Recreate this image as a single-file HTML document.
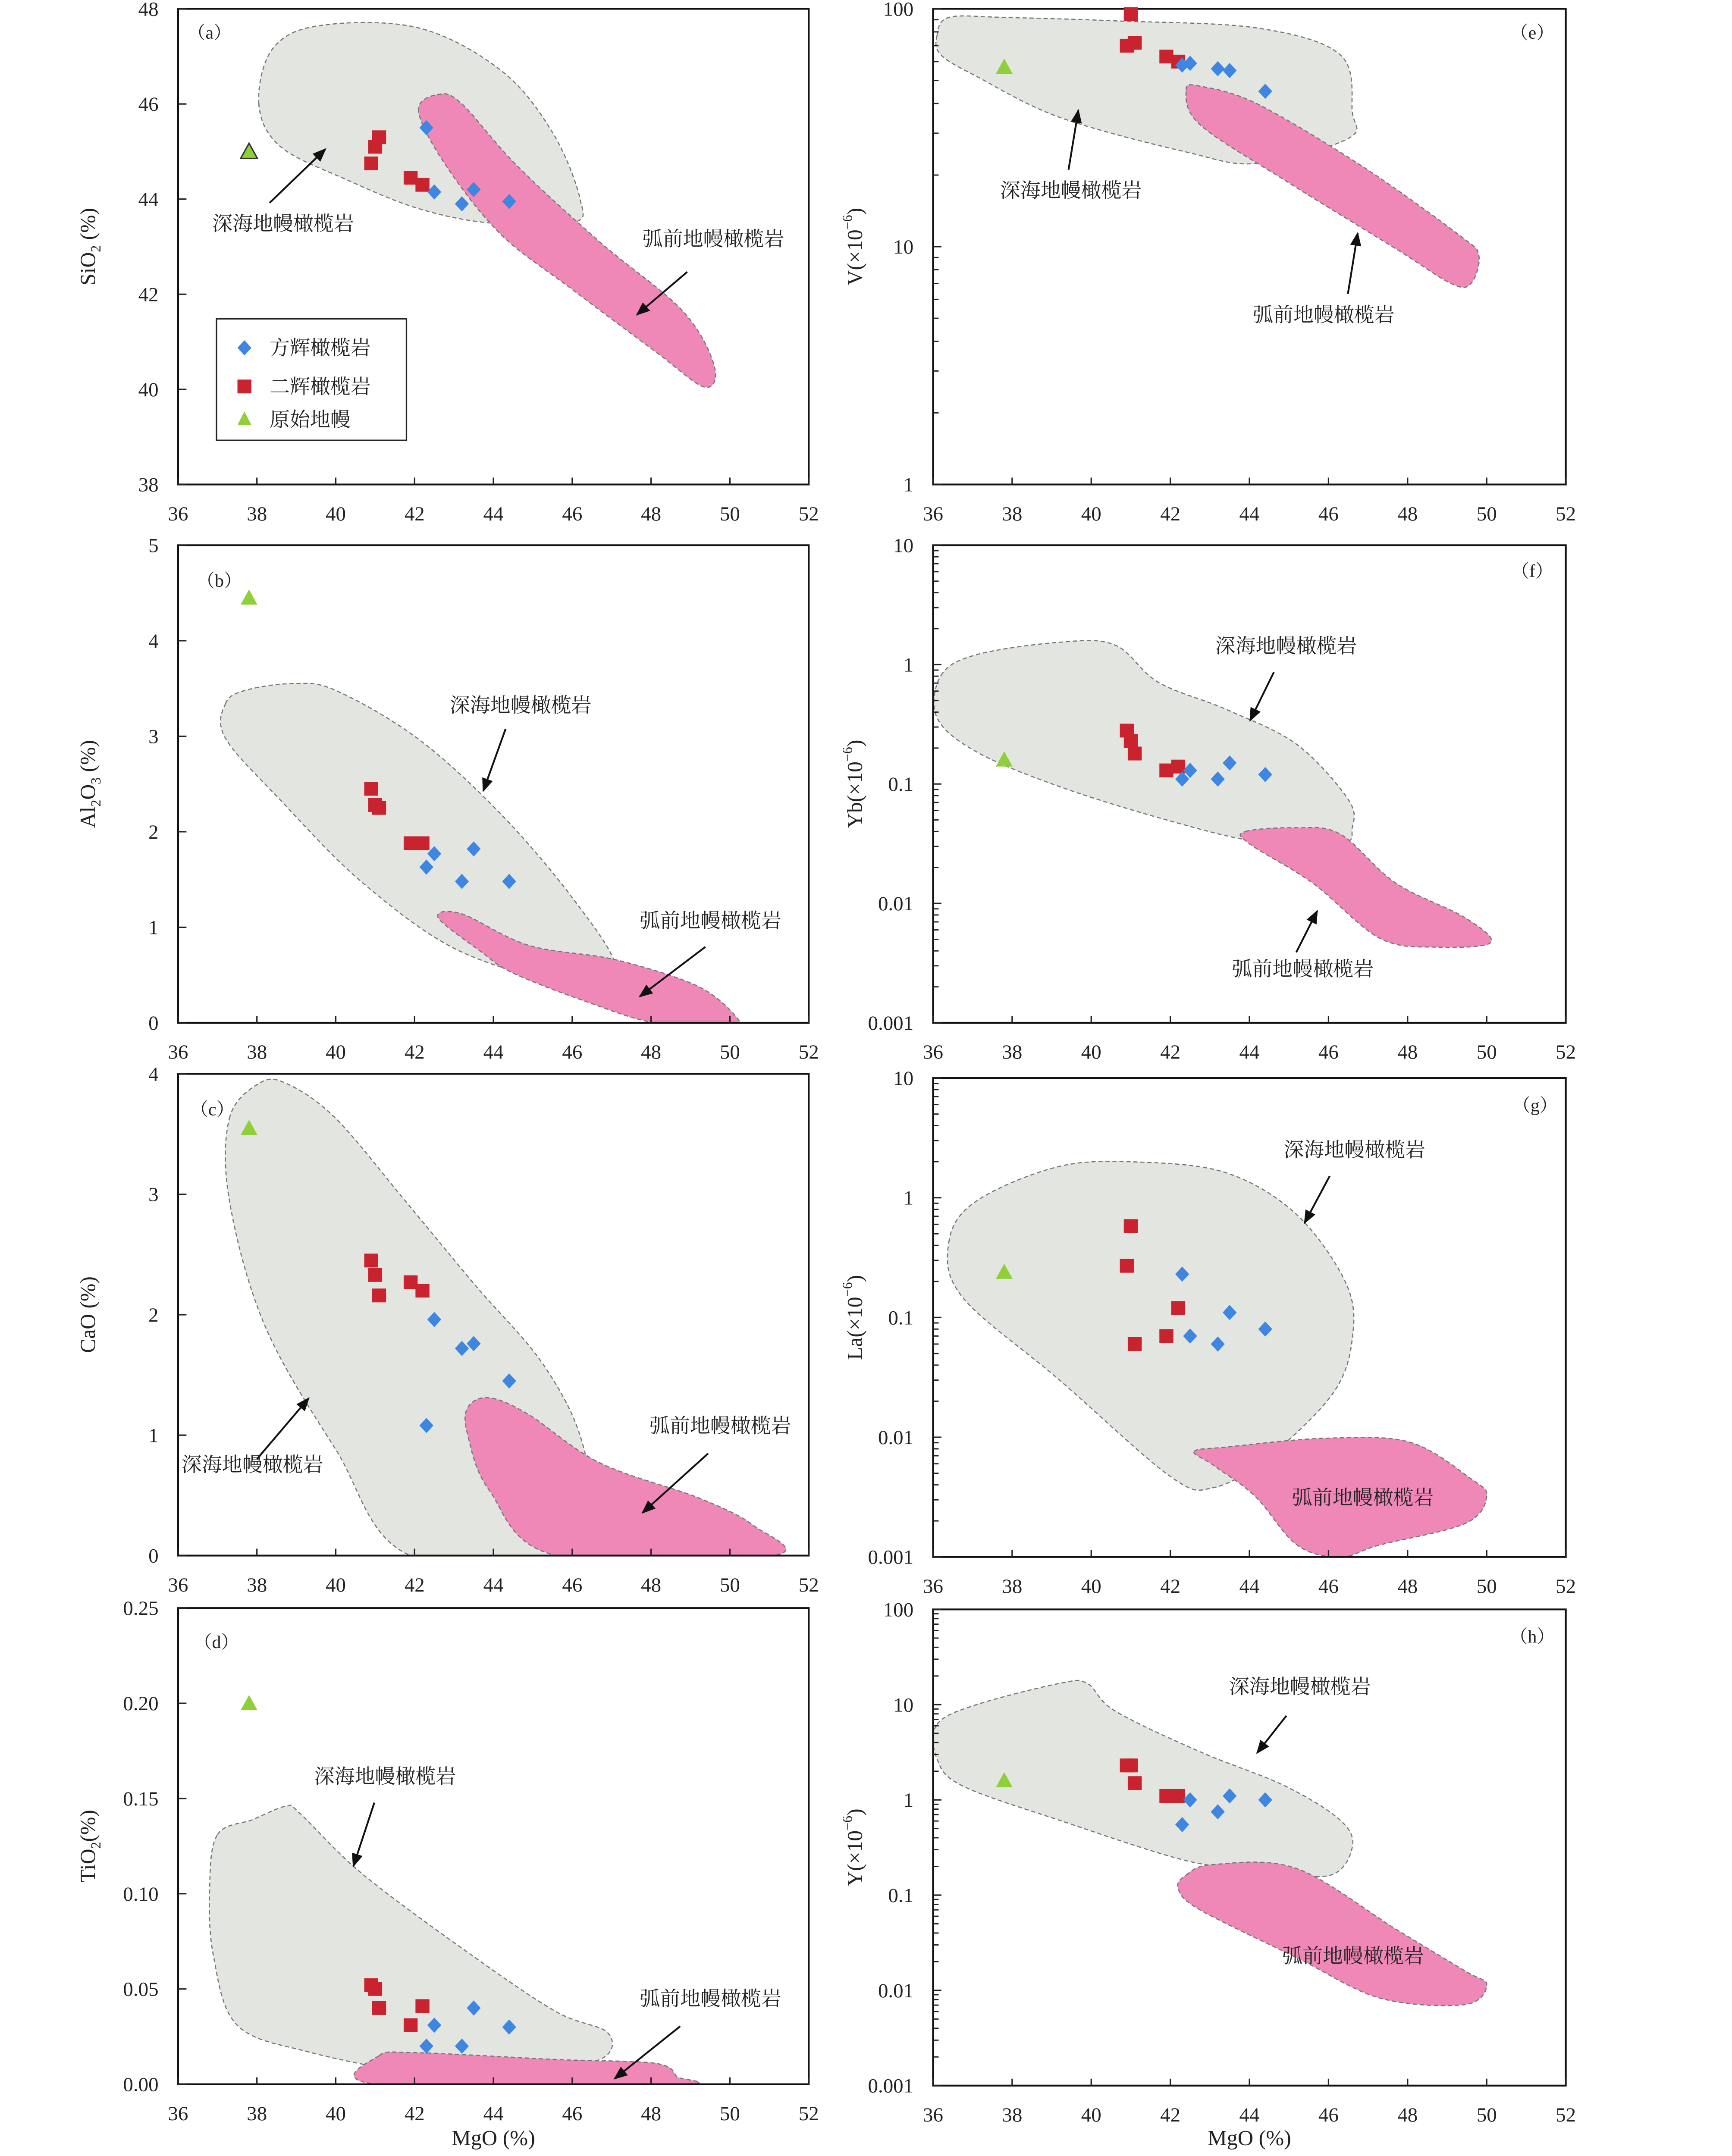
<!DOCTYPE html>
<html><head><meta charset="utf-8">
<style>
html,body{margin:0;padding:0;background:#fff;width:100%;height:100%;overflow:hidden;}
svg{display:block;position:fixed;left:0;top:0;width:100vw;height:100vh;}
text{font-family:"Liberation Serif","Noto Serif CJK SC",serif;fill:#222;}
</style></head>
<body>
<svg id="chart" xmlns="http://www.w3.org/2000/svg" viewBox="0 0 1240 1562" preserveAspectRatio="none"></svg>
<script>
// ---- data (MgO %, values) ----
const mgoHz = [42.3, 42.5, 43.2, 43.5, 44.4];      // harzburgite (diamonds)
const mgoLz = [40.9, 41.0, 41.1, 41.9, 42.2];      // lherzolite (squares)
const mgoPm = [37.8];                               // primitive mantle

const sio2Hz = [45.5, 44.15, 43.9, 44.2, 43.95];
const sio2Lz = [44.75, 45.1, 45.3, 44.45, 44.3];
const sio2Pm = [45.0];

const al2o3Hz = [1.63, 1.77, 1.48, 1.82, 1.48];
const al2o3Lz = [2.45, 2.28, 2.25, 1.88, 1.88];
const al2o3Pm = [4.45];

const caoHz = [1.08, 1.96, 1.72, 1.76, 1.45];
const caoLz = [2.45, 2.33, 2.16, 2.27, 2.2];
const caoPm = [3.55];

const tio2Hz = [0.02, 0.031, 0.02, 0.04, 0.03];
const tio2Lz = [0.052, 0.05, 0.04, 0.031, 0.041];
const tio2Pm = [0.2];

const vHz = [58, 59, 56, 55, 45];
const vLz = [70, 95, 72, 63, 60];
const vPm = [57];

const ybHz = [0.11, 0.13, 0.11, 0.15, 0.12];
const ybLz = [0.28, 0.23, 0.18, 0.13, 0.14];
const ybPm = [0.16];

const laHz = [0.23, 0.07, 0.06, 0.11, 0.08];
const laLz = [0.27, 0.58, 0.06, 0.07, 0.12];
const laPm = [0.24];

const yHz = [0.55, 1.0, 0.75, 1.1, 1.0];
const yLz = [2.3, 2.3, 1.5, 1.1, 1.1];
const yPm = [1.6];

// ---- field outlines (MgO, value) ----
const grayA = [[38.05,46.0],[38.4,47.16],[39.6,47.65],[42.1,47.6],[44.2,46.7],[45.5,45.4],[46.2,44.0],[46.0,43.5],[43.9,43.5],[42.1,43.8],[40.3,44.4],[38.6,45.1]];
const pinkA = [[42.1,45.85],[42.6,46.2],[43.2,46.0],[44.6,44.7],[46.7,43.1],[48.8,41.65],[49.6,40.5],[49.35,40.05],[48.1,40.8],[46.0,42.1],[44.2,43.25],[42.8,44.7]];
const grayB = [[37.2,3.34],[37.7,3.48],[38.9,3.55],[40.0,3.48],[42.1,2.97],[44.2,2.18],[46.0,1.31],[47.1,0.59],[46.3,0.38],[43.2,0.74],[40.7,1.46],[38.6,2.33],[37.2,2.98]];
const pinkB = [[42.6,1.1],[43.2,1.14],[44.9,0.81],[47.1,0.66],[49.2,0.38],[50.2,0.04],[49.9,0],[48.1,0],[46.3,0.23],[44.5,0.52],[43.7,0.74]];
const grayC = [[37.3,3.63],[38.05,3.92],[38.75,3.92],[40.0,3.63],[41.75,2.95],[43.5,2.26],[45.3,1.57],[46.3,0.88],[46.5,0],[41.9,0],[40.0,0.88],[38.2,1.91],[37.3,2.95]];
const pinkC = [[43.35,1.23],[43.9,1.31],[44.9,1.17],[46.7,0.77],[49.2,0.48],[50.6,0.25],[51.1,0],[45.6,0],[43.9,0.54],[43.35,1.0]];
const grayD = [[37.0,0.131],[37.9,0.139],[38.75,0.146],[39.1,0.142],[40.7,0.11],[43.5,0.067],[45.6,0.038],[46.9,0.027],[46.7,0.013],[44.6,0.006],[42.1,0.006],[39.3,0.017],[37.5,0.031],[36.9,0.067],[36.8,0.103]];
const pinkD = [[41.1,0.015],[42.1,0.0165],[45.6,0.013],[48.1,0.011],[48.65,0.004],[48.65,0],[41.05,0]];
const grayE = [[36.1,77],[36.4,92],[37.8,92],[40.6,89],[44.2,83],[46.3,64],[46.6,37],[46.5,28.5],[44.2,22.4],[42.4,25],[39.2,35],[37.1,52],[36.2,64]];
const pinkE = [[42.4,45.5],[42.75,47.3],[44.2,39.8],[46.85,21.8],[49.3,11.2],[49.8,9.2],[49.6,7.0],[49.1,7.0],[47.7,9.8],[44.9,19],[42.75,32.6]];
const grayF = [[36.2,0.81],[37.1,1.21],[39.2,1.54],[40.6,1.46],[41.7,0.71],[43.45,0.417],[45.2,0.214],[46.5,0.074],[46.6,0.043],[46.3,0.0316],[44.2,0.033],[42.0,0.049],[39.2,0.095],[37.1,0.186],[36.1,0.36]];
const pinkF = [[43.9,0.04],[45.2,0.043],[46.3,0.038],[47.7,0.0148],[49.45,0.0076],[50.1,0.0047],[48.75,0.0043],[47.3,0.0051],[45.6,0.0148],[44.0,0.0316]];
const grayG = [[36.4,0.425],[37.1,0.94],[39.2,1.83],[41.3,1.98],[43.45,1.6],[45.2,0.72],[46.45,0.19],[46.6,0.066],[46.1,0.023],[44.5,0.0069],[43.1,0.0038],[42.0,0.0047],[39.2,0.030],[36.75,0.147]];
const pinkG = [[42.6,0.0076],[43.45,0.0083],[45.9,0.0098],[48.05,0.0091],[49.6,0.0045],[50.0,0.0032],[49.45,0.0019],[47.3,0.00126],[46.3,0.001],[45.2,0.00126],[44.15,0.0032],[43.1,0.0058]];
const grayH = [[36.1,6.2],[37.1,10],[39.2,16.7],[39.9,16.7],[40.6,8.6],[42.75,3.2],[44.9,1.4],[46.3,0.61],[46.6,0.316],[46.0,0.16],[44.2,0.19],[42.4,0.23],[39.2,0.61],[36.75,1.4],[36.1,2.7]];
const pinkH = [[42.4,0.163],[43.1,0.21],[45.2,0.19],[47.7,0.044],[49.45,0.016],[50.0,0.0115],[49.45,0.0071],[47.3,0.0083],[45.2,0.022],[42.75,0.07],[42.2,0.117]];

const xTicks = [36,38,40,42,44,46,48,50,52];
const ticksA = [38,40,42,44,46,48];
const ticksB = [0,1,2,3,4,5];
const ticksC = [0,1,2,3,4];
const ticksD = [0,0.05,0.10,0.15,0.20,0.25];
const labelsD = ["0.00","0.05","0.10","0.15","0.20","0.25"];
const ticksE = [1,10,100];
const ticksF = [0.001,0.01,0.1,1,10];
const labelsF = ["0.001","0.01","0.1","1","10"];
const ticksH = [0.001,0.01,0.1,1,10,100];
const labelsH = ["0.001","0.01","0.1","1","10","100"];

const NS = "http://www.w3.org/2000/svg";
const svg = document.getElementById('chart');
function el(tag, attrs, parent){
  const e = document.createElementNS(NS, tag);
  for (const k in attrs) e.setAttribute(k, attrs[k]);
  (parent||svg).appendChild(e);
  return e;
}
function txt(s, x, y, size, anchor, parent){
  const t = el('text', {x:x, y:y, 'font-size':size, 'text-anchor':anchor||'start'}, parent);
  t.textContent = s;
  return t;
}

const panels = [
 {id:'a', L:127.5,R:579,T:6.4,B:351, ymin:38,ymax:48,log:false, ticks:ticksA, labels:null, hz:sio2Hz, lz:sio2Lz, pm:sio2Pm, gray:grayA, pink:pinkA, tag:[150,28], pmOutline:true,
  gl:[152,167], ga:[193,147,233,108], pl:[460,178], pa:[492,197,456,228], ylab:'SiO2', ylx:68},
 {id:'b', L:127.5,R:579,T:395,B:741, ymin:0,ymax:5,log:false, ticks:ticksB, labels:null, hz:al2o3Hz, lz:al2o3Lz, pm:al2o3Pm, gray:grayB, pink:pinkB, tag:[157,425],
  gl:[322,516], ga:[362,528,346,573], pl:[458,672], pa:[505,686,458,722], ylab:'Al2O3', ylx:68},
 {id:'c', L:127.5,R:579,T:778,B:1127, ymin:0,ymax:4,log:false, ticks:ticksC, labels:null, hz:caoHz, lz:caoLz, pm:caoPm, gray:grayC, pink:pinkC, tag:[152,808],
  gl:[130,1066], ga:[184,1057,221,1013], pl:[465,1038], pa:[507,1053,460,1096], ylab:'CaO', ylx:68},
 {id:'d', L:127.5,R:579,T:1165,B:1510, ymin:0,ymax:0.25,log:false, ticks:ticksD, labels:labelsD, hz:tio2Hz, lz:tio2Lz, pm:tio2Pm, gray:grayD, pink:pinkD, tag:[155,1194],
  gl:[225,1292], ga:[268,1306,253,1352], pl:[458,1453], pa:[487,1468,440,1506], ylab:'TiO2', ylx:68, xlab:true},
 {id:'e', L:668,R:1121,T:6.4,B:351, ymin:1,ymax:100,log:true, ticks:ticksE, labels:null, hz:vHz, lz:vLz, pm:vPm, gray:grayE, pink:pinkE, tag:[1097,28],
  gl:[716,143], ga:[765,123,772,80], pl:[897,233], pa:[965,213,972,169], ylab:'V', ylx:617},
 {id:'f', L:668,R:1121,T:395,B:741, ymin:0.001,ymax:10,log:true, ticks:ticksF, labels:labelsF, hz:ybHz, lz:ybLz, pm:ybPm, gray:grayF, pink:pinkF, tag:[1097,418],
  gl:[870,473], ga:[912,487,895,522], pl:[882,707], pa:[928,690,943,660], ylab:'Yb', ylx:617},
 {id:'g', L:668,R:1121,T:781,B:1128, ymin:0.001,ymax:10,log:true, ticks:ticksF, labels:labelsF, hz:laHz, lz:laLz, pm:laPm, gray:grayG, pink:pinkG, tag:[1099,805],
  gl:[919,838], ga:[952,852,934,886], pl:[925,1090], pa:null, ylab:'La', ylx:617},
 {id:'h', L:668,R:1121,T:1166,B:1511, ymin:0.001,ymax:100,log:true, ticks:ticksH, labels:labelsH, hz:yHz, lz:yLz, pm:yPm, gray:grayH, pink:pinkH, tag:[1097,1190],
  gl:[880,1227], ga:[921,1243,900,1270], pl:[918,1422], pa:null, ylab:'Y', ylx:617, xlab:true}
];

const defs = el('defs', {});
const mk = el('marker', {id:'ah', markerWidth:10, markerHeight:8, refX:9, refY:4, orient:'auto', markerUnits:'userSpaceOnUse'}, defs);
el('path', {d:'M0,0 L10,4 L0,8 Z', fill:'#111'}, mk);

function smooth(pts){
  const n = pts.length;
  let d = 'M' + pts[0][0].toFixed(1) + ',' + pts[0][1].toFixed(1);
  for (let i=0;i<n;i++){
    const p0=pts[(i-1+n)%n], p1=pts[i], p2=pts[(i+1)%n], p3=pts[(i+2)%n];
    const c1=[p1[0]+(p2[0]-p0[0])/6, p1[1]+(p2[1]-p0[1])/6];
    const c2=[p2[0]-(p3[0]-p1[0])/6, p2[1]-(p3[1]-p1[1])/6];
    d += ' C'+c1[0].toFixed(1)+','+c1[1].toFixed(1)+' '+c2[0].toFixed(1)+','+c2[1].toFixed(1)+' '+p2[0].toFixed(1)+','+p2[1].toFixed(1);
  }
  return d + ' Z';
}

panels.forEach(p => {
  const g = el('g', {});
  
  
  const xs = v => p.L + (v - 36) / 16 * (p.R - p.L);
  const ys = v => p.log
    ? p.B - (Math.log10(v) - Math.log10(p.ymin)) / (Math.log10(p.ymax) - Math.log10(p.ymin)) * (p.B - p.T)
    : p.B - (v - p.ymin) / (p.ymax - p.ymin) * (p.B - p.T);
  const clipId = 'clip' + p.id;
  const cp = el('clipPath', {id:clipId}, defs);
  el('rect', {x:p.L, y:p.T, width:p.R-p.L, height:p.B-p.T}, cp);

  const gp = el('path', {d:smooth(p.gray.map(q=>[xs(q[0]),ys(q[1])])), fill:'#e2e5e0', stroke:'#777', 'stroke-width':0.8, 'stroke-dasharray':'3,2', 'clip-path':'url(#'+clipId+')'}, g);
  
  
  const pp = el('path', {d:smooth(p.pink.map(q=>[xs(q[0]),ys(q[1])])), fill:'#ef88b6', stroke:'#777', 'stroke-width':0.8, 'stroke-dasharray':'3,2', 'clip-path':'url(#'+clipId+')'}, g);
  
  

  const fr = el('rect', {x:p.L, y:p.T, width:p.R-p.L, height:p.B-p.T, fill:'none', stroke:'#111', 'stroke-width':1.3}, g);
  
  

  xTicks.forEach(v => {
    const x = xs(v);
    el('line', {x1:x, y1:p.B, x2:x, y2:p.B-5, stroke:'#222', 'stroke-width':1}, g);
    const t = txt(String(v), x, p.B+26, 14.5, 'middle', g);
    
    
  });
  p.ticks.forEach((v,i) => {
    const y = ys(v);
    el('line', {x1:p.L, y1:y, x2:p.L+6, y2:y, stroke:'#222', 'stroke-width':1}, g);
    if (p.log && i < p.ticks.length-1) {
      for (let m=2;m<=9;m++){
        const ym = ys(v*m);
        el('line', {x1:p.L, y1:ym, x2:p.L+4, y2:ym, stroke:'#222', 'stroke-width':0.9}, g);
      }
    }
    const t = txt(p.labels ? p.labels[i] : String(v), p.L-14, y+5, 14.5, 'end', g);
    
    
  });

  const green = '#8fd03a';
  p.pm.forEach((v,i) => {
    const x = xs(mgoPm[i]), y = ys(v);
    const m = el('path', {d:`M${x},${y-6} L${x+6},${y+5} L${x-6},${y+5} Z`, fill:green, stroke:p.pmOutline?'#333':'none', 'stroke-width':1}, g);
    
    
  });
  p.lz.forEach((v,i) => {
    const x = xs(mgoLz[i]), y = ys(v);
    const m = el('rect', {x:x-5, y:y-5, width:10, height:10, fill:'#c8232e'}, g);
    
    
  });
  p.hz.forEach((v,i) => {
    const x = xs(mgoHz[i]), y = ys(v);
    const m = el('path', {d:`M${x},${y-5.5} L${x+5},${y} L${x},${y+5.5} L${x-5},${y} Z`, fill:'#3f86e0'}, g);
    
    
  });

  const gl = txt('深海地幔橄榄岩', p.gl[0], p.gl[1], 14.5, 'start', g);
  
  
  if (p.ga) el('line', {x1:p.ga[0], y1:p.ga[1], x2:p.ga[2], y2:p.ga[3], stroke:'#111', 'stroke-width':1.3, 'marker-end':'url(#ah)'}, g);
  const pl = txt('弧前地幔橄榄岩', p.pl[0], p.pl[1], 14.5, 'start', g);
  
  
  if (p.pa) el('line', {x1:p.pa[0], y1:p.pa[1], x2:p.pa[2], y2:p.pa[3], stroke:'#111', 'stroke-width':1.3, 'marker-end':'url(#ah)'}, g);
  const tg = txt('（' + p.id + '）', p.tag[0], p.tag[1], 13, 'middle', g);
  
  

  const cy = (p.T + p.B) / 2;
  const yt = el('text', {x:0, y:0, 'font-size':15.5, 'text-anchor':'middle', transform:`translate(${p.ylx},${cy}) rotate(-90)`}, g);
  
  
  const subs = {SiO2:['SiO','2',' (%)'], TiO2:['TiO','2','(%)']};
  if (p.ylab === 'Al2O3') {
    yt.innerHTML = 'Al<tspan font-size="10" dy="4">2</tspan><tspan dy="-4">O</tspan><tspan font-size="10" dy="4">3</tspan><tspan dy="-4"> (%)</tspan>';
  } else if (p.ylab === 'SiO2' || p.ylab === 'TiO2') {
    const s = subs[p.ylab];
    yt.innerHTML = s[0] + '<tspan font-size="10" dy="4">' + s[1] + '</tspan><tspan dy="-4">' + s[2] + '</tspan>';
  } else if (p.ylab === 'CaO') {
    yt.textContent = 'CaO (%)';
  } else {
    yt.innerHTML = p.ylab + '(×10<tspan font-size="10" dy="-7">−6</tspan><tspan dy="7">)</tspan>';
  }
  if (p.xlab) {
    const xt = txt('MgO (%)', (p.L+p.R)/2, 1554, 15.5, 'middle', g);
    
    
  }
});

const lg = el('g', {});


el('rect', {x:155, y:231, width:136, height:88, fill:'#fff', stroke:'#222', 'stroke-width':1}, lg);
el('path', {d:'M175,246.5 L180,252 L175,257.5 L170,252 Z', fill:'#3f86e0'}, lg);
const l1 = txt('方辉橄榄岩', 193, 257, 14.5, 'start', lg);


el('rect', {x:170, y:275, width:10, height:10, fill:'#c8232e'}, lg);
const l2 = txt('二辉橄榄岩', 193, 285, 14.5, 'start', lg);


el('path', {d:'M175,298 L180,308 L170,308 Z', fill:'#8fd03a'}, lg);
const l3 = txt('原始地幔', 193, 309, 14.5, 'start', lg);


</script>
</body></html>
